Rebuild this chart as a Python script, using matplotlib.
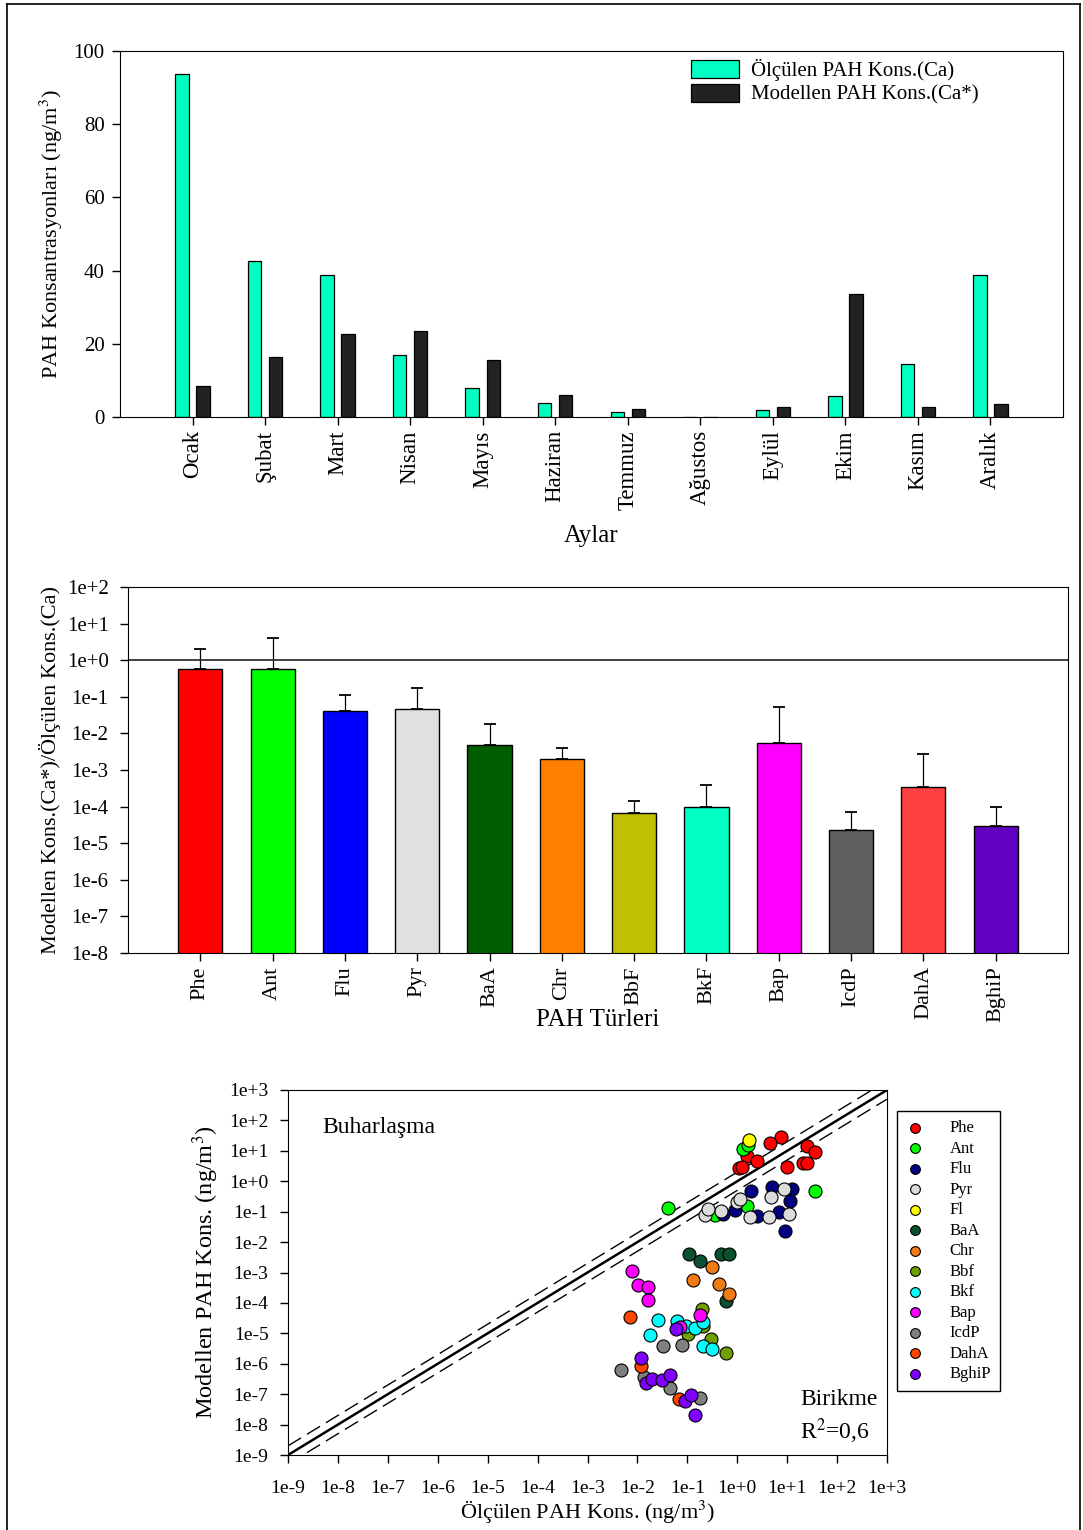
import numpy as np
import matplotlib
matplotlib.use("Agg")
import matplotlib.pyplot as plt
from matplotlib.lines import Line2D
from matplotlib.ticker import FuncFormatter, NullLocator, FixedLocator

plt.rcParams['font.family'] = ['Liberation Serif', 'DejaVu Serif']
plt.rcParams['mathtext.fontset'] = 'stix'

# ---------------- data ----------------
months = ["Ocak", "Şubat", "Mart", "Nisan", "Mayıs", "Haziran", "Temmuz",
          "Ağustos", "Eylül", "Ekim", "Kasım", "Aralık"]
measured = [93.6, 42.6, 38.9, 17.0, 7.9, 3.7, 1.5, 0.0, 2.0, 5.8, 14.5, 38.8]
modelled = [8.4, 16.4, 22.6, 23.5, 15.7, 6.0, 2.3, 0.0, 2.6, 33.6, 2.6, 3.5]

species = ["Phe", "Ant", "Flu", "Pyr", "BaA", "Chr", "BbF", "BkF", "Bap",
           "IcdP", "DahA", "BghiP"]
ratio = [0.586, 0.574, 0.0403, 0.0477, 0.00491, 0.00194, 6.8e-5, 9.5e-5,
         5.57e-3, 2.28e-5, 3.45e-4, 2.87e-5]
ratio_upper = [1.99, 4.16, 0.113, 0.173, 0.0177, 0.00397, 1.46e-4, 3.9e-4,
               0.0519, 7.1e-5, 2.72e-3, 9.95e-5]
species_colors = ["#FF0000", "#00FF00", "#0000FF", "#E0E0E0", "#005E00",
                  "#FF8000", "#C0C000", "#00FFC0", "#FF00FF", "#606060",
                  "#FF4040", "#6000C0"]

# measured (x) vs modelled (y) concentrations, ng/m3
phe_x = [7.6, 4.56, 24.8, 36.4, 1.56, 2.47, 1.08, 1.24, 9.87, 20.9, 24.8]
phe_y = [27.7, 18.4, 14.6, 9.06, 6.68, 4.48, 2.69, 2.84, 2.84, 3.85, 3.85]
ant_x = [1.33, 1.65, 36.4, 0.0418, 1.56, 0.361]
ant_y = [11.6, 15.4, 0.481, 0.132, 0.151, 0.076]
flu_x = [1.90, 5.00, 12.4, 11.5, 6.82, 2.47, 0.908, 0.529, 9.25]
flu_y = [0.470, 0.652, 0.577, 0.220, 0.0977, 0.0721, 0.111, 0.0865, 0.0226]
pyr_x = [8.83, 4.71, 0.98, 1.14, 0.469, 0.227, 0.265, 1.76, 4.30, 11.0]
pyr_y = [0.577, 0.305, 0.209, 0.270, 0.103, 0.076, 0.126, 0.0655, 0.0655, 0.0865]
fl_x = [1.71]
fl_y = [22.5]
baa_x = [0.110, 0.181, 0.469, 0.698, 0.591]
baa_y = [0.00416, 0.00245, 0.00416, 0.00394, 1.2e-4]
chr_x = [0.310, 0.132, 0.424, 0.689]
chr_y = [0.00151, 5.79e-4, 4.06e-4, 2.0e-4]
bbf_x = [0.195, 0.210, 0.105, 0.296, 0.600]
bbf_y = [6.08e-5, 1.71e-5, 9.64e-6, 6.59e-6, 2.28e-6]
bkf_x = [0.0264, 0.0180, 0.0615, 0.0946, 0.143, 0.210, 0.205, 0.314]
bkf_y = [2.74e-5, 8.93e-6, 2.45e-5, 1.71e-5, 1.52e-5, 2.32e-5, 3.87e-6, 2.99e-6]
bap_x = [7.73e-3, 0.0101, 0.0164, 0.0161, 0.181, 0.0718]
bap_y = [1.11e-3, 3.82e-4, 3.23e-4, 1.28e-4, 3.95e-5, 1.59e-5]
icdp_x = [0.0323, 0.0787, 4.77e-3, 0.0136, 0.0452, 0.181]
icdp_y = [3.96e-6, 4.28e-6, 6.27e-7, 3.77e-7, 1.6e-7, 7.27e-8]
daha_x = [6.98e-3, 0.0120, 0.0695]
daha_y = [3.52e-5, 8.24e-7, 6.95e-8]
bghip_x = [0.0597, 0.0119, 0.0147, 0.0194, 0.0313, 0.0452, 0.0916, 0.117, 0.143]
bghip_y = [1.41e-5, 1.56e-6, 2.34e-7, 3.17e-7, 3.0e-7, 4.4e-7, 6.1e-8, 9.4e-8, 2.0e-8]

scatter_labels = ["Phe", "Ant", "Flu", "Pyr", "Fl", "BaA", "Chr", "Bbf", "Bkf",
                  "Bap", "IcdP", "DahA", "BghiP"]
scatter_colors = ["#FF0000", "#00FF00", "#000080", "#DCDCDC", "#FFFF00",
                  "#0B5130", "#F07A14", "#6FA000", "#00FFFF", "#FF00FF",
                  "#808080", "#FF4500", "#8000FF"]
scatter_x = [phe_x, ant_x, flu_x, pyr_x, fl_x, baa_x, chr_x, bbf_x, bkf_x,
             bap_x, icdp_x, daha_x, bghip_x]
scatter_y = [phe_y, ant_y, flu_y, pyr_y, fl_y, baa_y, chr_y, bbf_y, bkf_y,
             bap_y, icdp_y, daha_y, bghip_y]

# ---------------- figure ----------------
W, H = 1083, 1530
fig = plt.figure(figsize=(W / 100, H / 100), dpi=100)


def frac(l, t, r, b):
    return [l / W, 1 - b / H, (r - l) / W, (b - t) / H]


def exp_label(v, pos):
    return "1e{:+d}".format(int(round(np.log10(v))))


# outer frame (left, top, right edges)
for xs, ys in [((7, 7), (4, 1530)), ((7, 1080), (4, 4)), ((1080, 1080), (4, 1530))]:
    fig.add_artist(Line2D([xs[0] / W, xs[1] / W], [1 - ys[0] / H, 1 - ys[1] / H],
                          color='black', lw=1.2, transform=fig.transFigure))

# ---- monthly bars ----
ax1 = fig.add_axes(frac(120, 51, 1063, 417))
xm = np.arange(len(months))
ax1.bar(xm - 0.145, measured, 0.185, color='#00FFC0', edgecolor='black',
        linewidth=0.9, label='Ölçülen PAH Kons.(Ca)')
ax1.bar(xm + 0.145, modelled, 0.185, color='#222222', edgecolor='black',
        linewidth=0.9, label='Modellen PAH Kons.(Ca*)')
ax1.set_xlim(-1, 12)
ax1.set_ylim(0, 100)
ax1.set_yticks(range(0, 101, 20))
ax1.set_xticks(xm)
ax1.set_xticklabels(months, rotation=90, fontsize=16.5)
ax1.tick_params(axis='y', labelsize=15, pad=5)
ax1.tick_params(direction='out', length=6, width=1)
ax1.set_ylabel('PAH Konsantrasyonları (ng/m$^3$)', fontsize=16, labelpad=6)
ax1.set_xlabel('Aylar', fontsize=18, labelpad=11)
ax1.legend(loc='upper left', bbox_to_anchor=(0.59, 1.017), frameon=False,
           fontsize=15, handlelength=2.3, handleheight=0.95, handletextpad=0.6,
           labelspacing=0.1, borderpad=0.2)

# ---- ratio bars ----
ax2 = fig.add_axes(frac(128, 587, 1068, 953))
xs_ = np.arange(len(species))
ax2.set_yscale('log')
ax2.bar(xs_, ratio, 0.61, color=species_colors, edgecolor='black', linewidth=1.0)
err_hi = np.array(ratio_upper) - np.array(ratio)
ax2.errorbar(xs_, ratio, yerr=[np.zeros(len(ratio)), err_hi], fmt='none',
             ecolor='black', elinewidth=0.9, capsize=4, capthick=1.3)
ax2.axhline(1.0, color='#333333', lw=1.3)
ax2.set_xlim(-1, 12)
ax2.set_ylim(1e-8, 1e2)
ax2.yaxis.set_major_locator(FixedLocator([10.0 ** k for k in range(-8, 3)]))
ax2.yaxis.set_minor_locator(NullLocator())
ax2.yaxis.set_major_formatter(FuncFormatter(exp_label))
ax2.set_xticks(xs_)
ax2.set_xticklabels(species, rotation=90, fontsize=16)
ax2.tick_params(axis='y', labelsize=15, pad=8)
ax2.tick_params(direction='out', length=6, width=1)
ax2.set_ylabel('Modellen Kons.(Ca*)/Ölçülen Kons.(Ca)', fontsize=16, labelpad=4)
ax2.set_xlabel('PAH Türleri', fontsize=18, labelpad=-9)

# ---- scatter ----
ax3 = fig.add_axes(frac(288, 1090, 887, 1455))
ax3.set_xscale('log')
ax3.set_yscale('log')
line_x = np.array([1e-9, 1e3])
ax3.plot(line_x, line_x, color='black', lw=1.8, zorder=1)
ax3.plot(line_x, line_x * 2, color='black', lw=1.0, dashes=(11, 5), zorder=1)
ax3.plot(line_x, line_x / 2, color='black', lw=1.0, dashes=(11, 5), zorder=1)
for lab, col, xv, yv in zip(scatter_labels, scatter_colors, scatter_x, scatter_y):
    ax3.scatter(xv, yv, s=88, color=col, edgecolors='black', linewidths=0.8,
                label=lab, zorder=3)
ax3.set_xlim(1e-9, 1e3)
ax3.set_ylim(1e-9, 1e3)
decades = [10.0 ** k for k in range(-9, 4)]
for axis in (ax3.xaxis, ax3.yaxis):
    axis.set_major_locator(FixedLocator(decades))
    axis.set_minor_locator(NullLocator())
    axis.set_major_formatter(FuncFormatter(exp_label))
ax3.tick_params(labelsize=14, direction='out', length=6, width=1)
ax3.tick_params(axis='x', pad=12)
ax3.tick_params(axis='y', pad=8)
ax3.set_ylabel('Modellen PAH Kons. (ng/m$^3$)', fontsize=17.5, labelpad=6)
ax3.set_xlabel('Ölçülen PAH Kons. (ng/m$^3$)', fontsize=16, labelpad=1)
ax3.text(0.057, 0.897, 'Buharlaşma', transform=ax3.transAxes, fontsize=17,
         va='center', ha='left')
ax3.text(0.855, 0.151, 'Birikme', transform=ax3.transAxes, fontsize=17,
         va='center', ha='left')
ax3.text(0.855, 0.066, 'R$^2$=0,6', transform=ax3.transAxes, fontsize=17,
         va='center', ha='left')
leg = ax3.legend(loc='upper left', bbox_to_anchor=(1.0167, 0.9425), fontsize=12,
                 frameon=True, fancybox=False, edgecolor='black', framealpha=1,
                 handletextpad=1.6, labelspacing=0.27, borderpad=0.55,
                 borderaxespad=0, handlelength=1.0, scatterpoints=1,
                 markerscale=0.75)
leg.get_frame().set_linewidth(1.0)

fig.savefig('out.png', dpi=100)
